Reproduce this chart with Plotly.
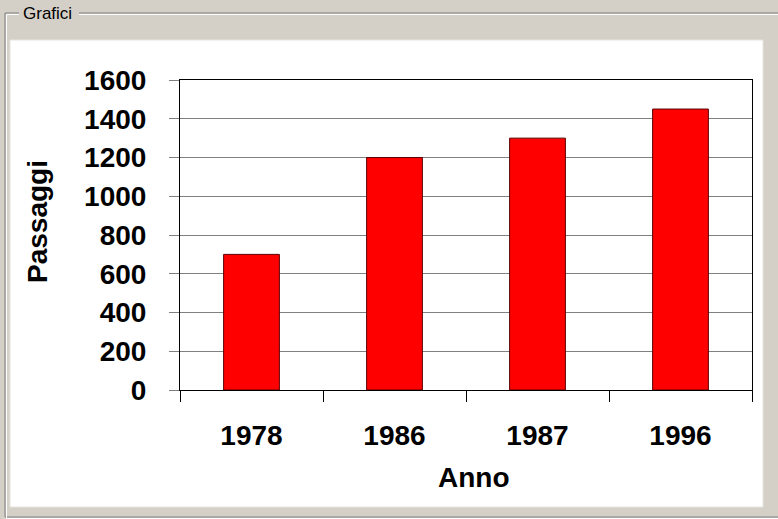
import plotly.graph_objects as go

anni = ["1978", "1986", "1987", "1996"]
passaggi = [700, 1200, 1300, 1450]
y_ticks = [0, 200, 400, 600, 800, 1000, 1200, 1400, 1600]

W, H = 778, 519
L, R, T, B = 180, 752, 80, 390  # plot area in px

def px(x):
    return (x - L) / (R - L)

def py(y):
    return (B - y) / (B - T)

FONT = "Liberation Sans, Arial, sans-serif"
GRAY = "#D4D0C8"

fig = go.Figure()
fig.add_trace(go.Bar(
    x=anni, y=passaggi,
    marker=dict(color="#FF0000", line=dict(color="#5a0000", width=1)),
    hoverinfo="x+y",
))

shapes = [
    # group box etched frame
    dict(type="rect", x0=px(5), x1=px(800), y0=py(13), y1=py(517),
         line=dict(color="#808080", width=1), fillcolor="rgba(0,0,0,0)"),
    dict(type="rect", x0=px(6.5), x1=px(801), y0=py(14.5), y1=py(518.5),
         line=dict(color="#FFFFFF", width=1), fillcolor="rgba(0,0,0,0)"),
    # title gap
    dict(type="rect", x0=px(19), x1=px(79), y0=py(2), y1=py(24),
         line=dict(width=0), fillcolor=GRAY),
    # white chart area
    dict(type="rect", x0=px(10), x1=px(763), y0=py(40), y1=py(507),
         line=dict(color="#E6E4DE", width=1), fillcolor="#FFFFFF"),
]
for s in shapes:
    s.update(xref="paper", yref="paper", layer="below")

fig.update_layout(
    width=W, height=H,
    margin=dict(l=L, r=W - R, t=T, b=H - B, pad=0),
    paper_bgcolor=GRAY,
    plot_bgcolor="rgba(0,0,0,0)",
    showlegend=False,
    bargap=0.61,
    shapes=shapes,
    font=dict(family=FONT, color="#000000"),
    annotations=[
        dict(text="Grafici", x=px(21), y=py(13), xref="paper", yref="paper",
             xanchor="left", yanchor="middle", showarrow=False,
             font=dict(family=FONT, size=17, color="#000000")),
        dict(text="Passaggi", x=px(38), y=py(222), xref="paper", yref="paper",
             xanchor="center", yanchor="middle", showarrow=False, textangle=-90,
             font=dict(family=FONT, size=28, weight="bold", color="#000000")),
        dict(text="Anno", x=px(474), y=py(477), xref="paper", yref="paper",
             xanchor="center", yanchor="middle", showarrow=False,
             font=dict(family=FONT, size=28, weight="bold", color="#000000")),
    ],
)

fig.update_xaxes(
    type="category", showgrid=False,
    showline=True, linecolor="#000000", linewidth=1, mirror=True,
    ticks="outside", tickson="boundaries", ticklen=11, tickcolor="#000000",
    tickfont=dict(family=FONT, size=28, weight="bold", color="#000000"),
    ticklabelstandoff=20,
    fixedrange=True,
)
fig.update_yaxes(
    range=[0, 1600], tickvals=y_ticks, ticktext=[str(v) for v in y_ticks],
    showgrid=True, gridcolor="#808080", gridwidth=1,
    showline=True, linecolor="#000000", linewidth=1, mirror=True,
    ticks="outside", ticklen=10, tickcolor="#808080",
    tickfont=dict(family=FONT, size=28, weight="bold", color="#000000"),
    ticklabelstandoff=17,
    zeroline=False, fixedrange=True,
)

fig.write_html(
    "out.html",
    config={"displayModeBar": False},
    post_script="document.body.style.margin='0';document.body.style.overflow='hidden';",
)
